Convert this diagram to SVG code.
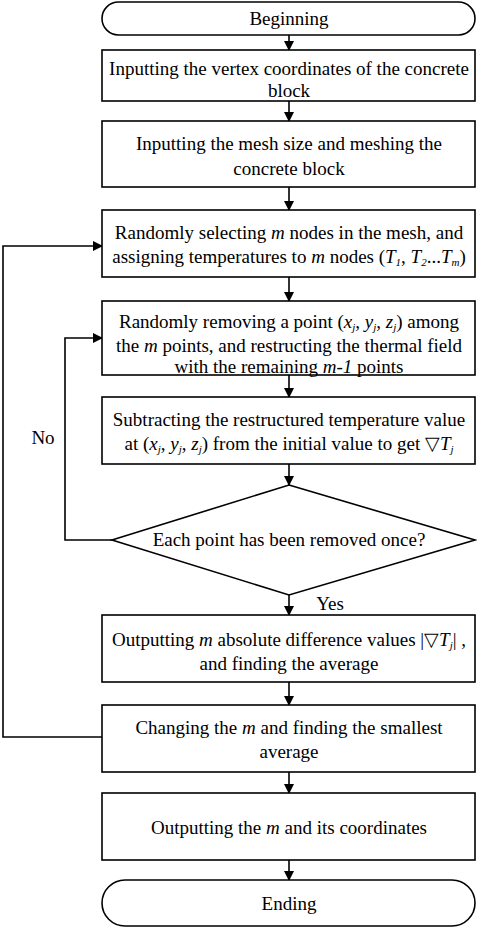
<svg xmlns="http://www.w3.org/2000/svg" width="477" height="929" viewBox="0 0 477 929">
<style>
.box{fill:#fff;stroke:#000;stroke-width:1.6}
.ln{fill:none;stroke:#000;stroke-width:1.6}
text{font-family:"Liberation Serif","Times New Roman",serif;font-size:19px;fill:#000;text-anchor:middle}
.i{font-style:italic}
.s{font-size:11px;baseline-shift:-3px;font-style:italic}
</style>
<defs>
<marker id="ah" markerWidth="10" markerHeight="10" refX="9" refY="5" orient="auto" markerUnits="userSpaceOnUse">
<path d="M0,0 L10,5 L0,10 Z" fill="#000"/>
</marker>
</defs>
<g id="connectors">
<line class="ln" x1="289" y1="35" x2="289" y2="50" marker-end="url(#ah)"/>
<line class="ln" x1="289" y1="101" x2="289" y2="121" marker-end="url(#ah)"/>
<line class="ln" x1="289" y1="187" x2="289" y2="210" marker-end="url(#ah)"/>
<line class="ln" x1="289" y1="277" x2="289" y2="301" marker-end="url(#ah)"/>
<line class="ln" x1="289" y1="375" x2="289" y2="397" marker-end="url(#ah)"/>
<line class="ln" x1="289" y1="464" x2="289" y2="485" marker-end="url(#ah)"/>
<line class="ln" x1="289" y1="595" x2="289" y2="615" marker-end="url(#ah)"/>
<line class="ln" x1="289" y1="682" x2="289" y2="705" marker-end="url(#ah)"/>
<line class="ln" x1="289" y1="772" x2="289" y2="793" marker-end="url(#ah)"/>
<line class="ln" x1="289" y1="860" x2="289" y2="880" marker-end="url(#ah)"/>
<polyline class="ln" points="112,540 65,540 65,338 102,338" marker-end="url(#ah)"/>
<polyline class="ln" points="102,737 3,737 3,246 102,246" marker-end="url(#ah)"/>
<text x="43" y="444">No</text>
<text x="330" y="610">Yes</text>
</g>
<g id="begin">
<rect class="box" x="102" y="2" width="373" height="33" rx="16.5"/>
<text x="289" y="25">Beginning</text>
</g>
<g id="n1">
<rect class="box" x="102" y="50" width="373" height="51"/>
<text x="289" y="75">Inputting the vertex coordinates of the concrete</text>
<text x="289" y="97">block</text>
</g>
<g id="n2">
<rect class="box" x="102" y="121" width="373" height="66"/>
<text x="289" y="150">Inputting the mesh size and meshing the</text>
<text x="289" y="175">concrete block</text>
</g>
<g id="n3">
<rect class="box" x="102" y="210" width="373" height="67"/>
<text x="289" y="239">Randomly selecting <tspan class="i">m</tspan> nodes in the mesh, and</text>
<text x="289" y="263">assigning temperatures to <tspan class="i">m</tspan> nodes (<tspan class="i">T</tspan><tspan class="s">1</tspan>, <tspan class="i">T</tspan><tspan class="s">2</tspan>...<tspan class="i">T</tspan><tspan class="s">m</tspan>)</text>
</g>
<g id="n4">
<rect class="box" x="102" y="301" width="373" height="74"/>
<text x="289" y="328">Randomly removing a  point (<tspan class="i">x</tspan><tspan class="s">j</tspan>, <tspan class="i">y</tspan><tspan class="s">j</tspan>, <tspan class="i">z</tspan><tspan class="s">j</tspan>) among</text>
<text x="289" y="352">the <tspan class="i">m</tspan> points, and restructing the thermal field</text>
<text x="289" y="373">with the remaining <tspan class="i">m-1</tspan> points</text>
</g>
<g id="n5">
<rect class="box" x="102" y="397" width="373" height="67"/>
<text x="289" y="426">Subtracting the restructured temperature value</text>
<text x="289" y="450">at (<tspan class="i">x</tspan><tspan class="s">j</tspan>, <tspan class="i">y</tspan><tspan class="s">j</tspan>, <tspan class="i">z</tspan><tspan class="s">j</tspan>) from the initial value to get  ▽<tspan class="i">T</tspan><tspan class="s">j</tspan></text>
</g>
<g id="decision">
<polygon class="box" points="289,485 475,540 289,595 112,540"/>
<text x="289" y="546">Each point has been removed once?</text>
</g>
<g id="n6">
<rect class="box" x="102" y="615" width="373" height="67"/>
<text x="289" y="646">Outputting <tspan class="i">m</tspan> absolute difference values |▽<tspan class="i">T</tspan><tspan class="s">j</tspan>| ,</text>
<text x="289" y="670">and finding the average</text>
</g>
<g id="n7">
<rect class="box" x="102" y="705" width="373" height="67"/>
<text x="289" y="734">Changing the <tspan class="i">m</tspan> and finding the smallest</text>
<text x="289" y="758">average</text>
</g>
<g id="n8">
<rect class="box" x="102" y="793" width="373" height="67"/>
<text x="289" y="834">Outputting the <tspan class="i">m</tspan> and its coordinates</text>
</g>
<g id="end">
<rect class="box" x="102" y="880" width="373" height="46" rx="23"/>
<text x="289" y="910">Ending</text>
</g>
</svg>
